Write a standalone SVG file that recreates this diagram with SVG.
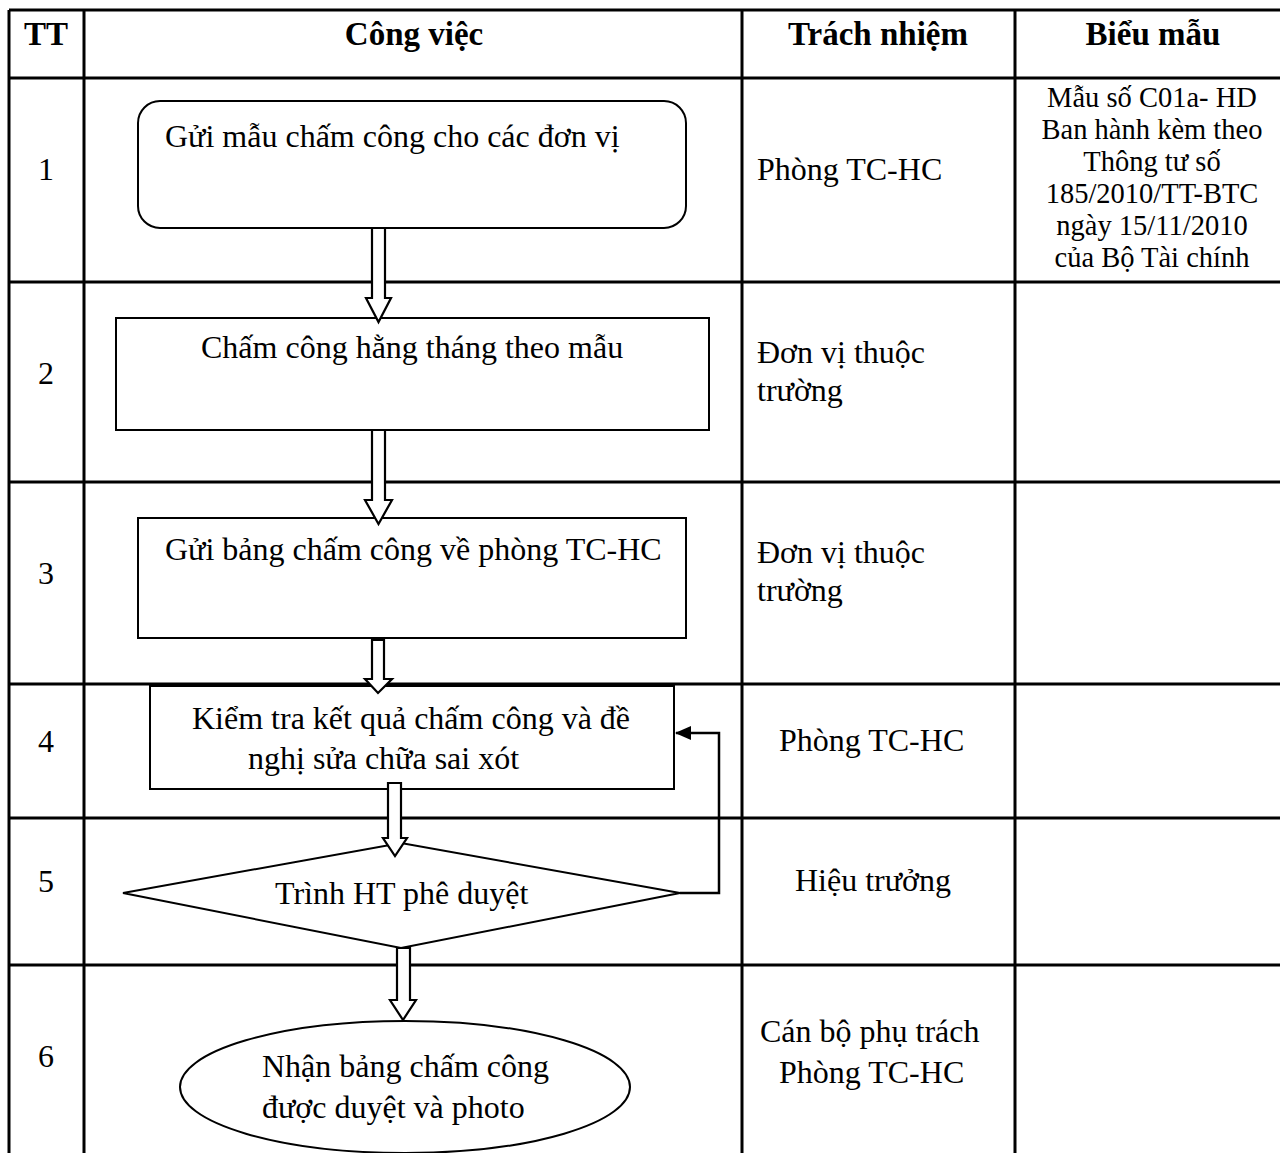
<svg xmlns="http://www.w3.org/2000/svg" width="1280" height="1153" viewBox="0 0 1280 1153">
<style>
text{font-family:"Liberation Serif","Times New Roman",serif;fill:#000}
.h{font-size:33px;font-weight:bold;text-anchor:middle}
.b{font-size:32px}
.c{text-anchor:middle}
.s{font-size:28.5px;text-anchor:middle}
.grid{stroke:#000;stroke-width:3;fill:none}
.shape{stroke:#000;stroke-width:2;fill:#fff}
.blk{stroke:#000;stroke-width:2.2;fill:#fff;stroke-linejoin:miter}
.ln{stroke:#000;stroke-width:2.5;fill:none}
</style>
<defs>
<marker id="ah" markerWidth="16" markerHeight="16" refX="15" refY="8" orient="auto" markerUnits="userSpaceOnUse" viewBox="0 0 16 16">
<path d="M0,1 L16,8 L0,15 z" fill="#000"/>
</marker>
</defs>
<rect width="1280" height="1153" fill="#fff"/>
<g id="table">
<path class="grid" d="M9,10 H1282 M9,78 H1282 M9,282 H1282 M9,482 H1282 M9,684 H1282 M9,818 H1282 M9,965 H1282 M9,10 V1160 M84,10 V1160 M742,10 V1160 M1015,10 V1160"/>
<text class="h" x="46" y="45">TT</text>
<text class="h" x="414" y="45">Công việc</text>
<text class="h" x="878" y="45">Trách nhiệm</text>
<text class="h" x="1153" y="45">Biểu mẫu</text>
<text class="b c" x="46" y="180">1</text>
<text class="b c" x="46" y="384">2</text>
<text class="b c" x="46" y="584">3</text>
<text class="b c" x="46" y="752">4</text>
<text class="b c" x="46" y="892">5</text>
<text class="b c" x="46" y="1067">6</text>
<text class="b" x="757" y="180">Phòng TC-HC</text>
<text class="b" x="757" y="363">Đơn vị thuộc</text>
<text class="b" x="757" y="401">trường</text>
<text class="b" x="757" y="563">Đơn vị thuộc</text>
<text class="b" x="757" y="601">trường</text>
<text class="b" x="779" y="751">Phòng TC-HC</text>
<text class="b" x="795" y="891">Hiệu trưởng</text>
<text class="b" x="760" y="1042">Cán bộ phụ trách</text>
<text class="b" x="779" y="1083">Phòng TC-HC</text>
<text class="s" x="1152" y="107">Mẫu số C01a- HD</text>
<text class="s" x="1152" y="139">Ban hành kèm theo</text>
<text class="s" x="1152" y="171">Thông tư số</text>
<text class="s" x="1152" y="203">185/2010/TT-BTC</text>
<text class="s" x="1152" y="235">ngày 15/11/2010</text>
<text class="s" x="1152" y="267">của Bộ Tài chính</text>
</g>
<g id="node1">
<rect class="shape" x="138" y="101" width="548" height="127" rx="22" ry="22"/>
<text class="b" x="165" y="147">Gửi mẫu chấm công cho các đơn vị</text>
</g>
<g id="node2">
<rect class="shape" x="116" y="318" width="593" height="112"/>
<text class="b" x="201" y="358">Chấm công hằng tháng theo mẫu</text>
</g>
<g id="node3">
<rect class="shape" x="138" y="518" width="548" height="120"/>
<text class="b" x="165" y="560">Gửi bảng chấm công về phòng TC-HC</text>
</g>
<g id="node4">
<rect class="shape" x="150" y="686" width="524" height="103"/>
<text class="b" x="192" y="729">Kiểm tra kết quả chấm công và đề</text>
<text class="b" x="248" y="769">nghị sửa chữa sai xót</text>
</g>
<g id="node5">
<polygon class="shape" points="123,893 401,843 680,893 401,948"/>
<text class="b" x="275" y="904">Trình HT phê duyệt</text>
</g>
<g id="node6">
<ellipse class="shape" cx="405" cy="1087" rx="225" ry="66"/>
<text class="b" x="262" y="1077">Nhận bảng chấm công</text>
<text class="b" x="262" y="1118">được duyệt và photo</text>
</g>
<g id="connectors">
<polygon class="blk" points="372,228 385,228 385,298 391,298 378.5,322 366,298 372,298"/>
<polygon class="blk" points="372,430 385,430 385,500 392,500 378.5,524 365,500 372,500"/>
<polygon class="blk" points="372,640 384,640 384,679 392,679 378,693 365,679 372,679"/>
<polygon class="blk" points="388,783 401,783 401,838 407,838 395,856 383,838 388,838"/>
<polygon class="blk" points="397,948 410,948 410,1000 416,1000 403,1020 390,1000 397,1000"/>
<polyline class="ln" points="680,893 719,893 719,733 676,733" marker-end="url(#ah)"/>
</g>
</svg>
